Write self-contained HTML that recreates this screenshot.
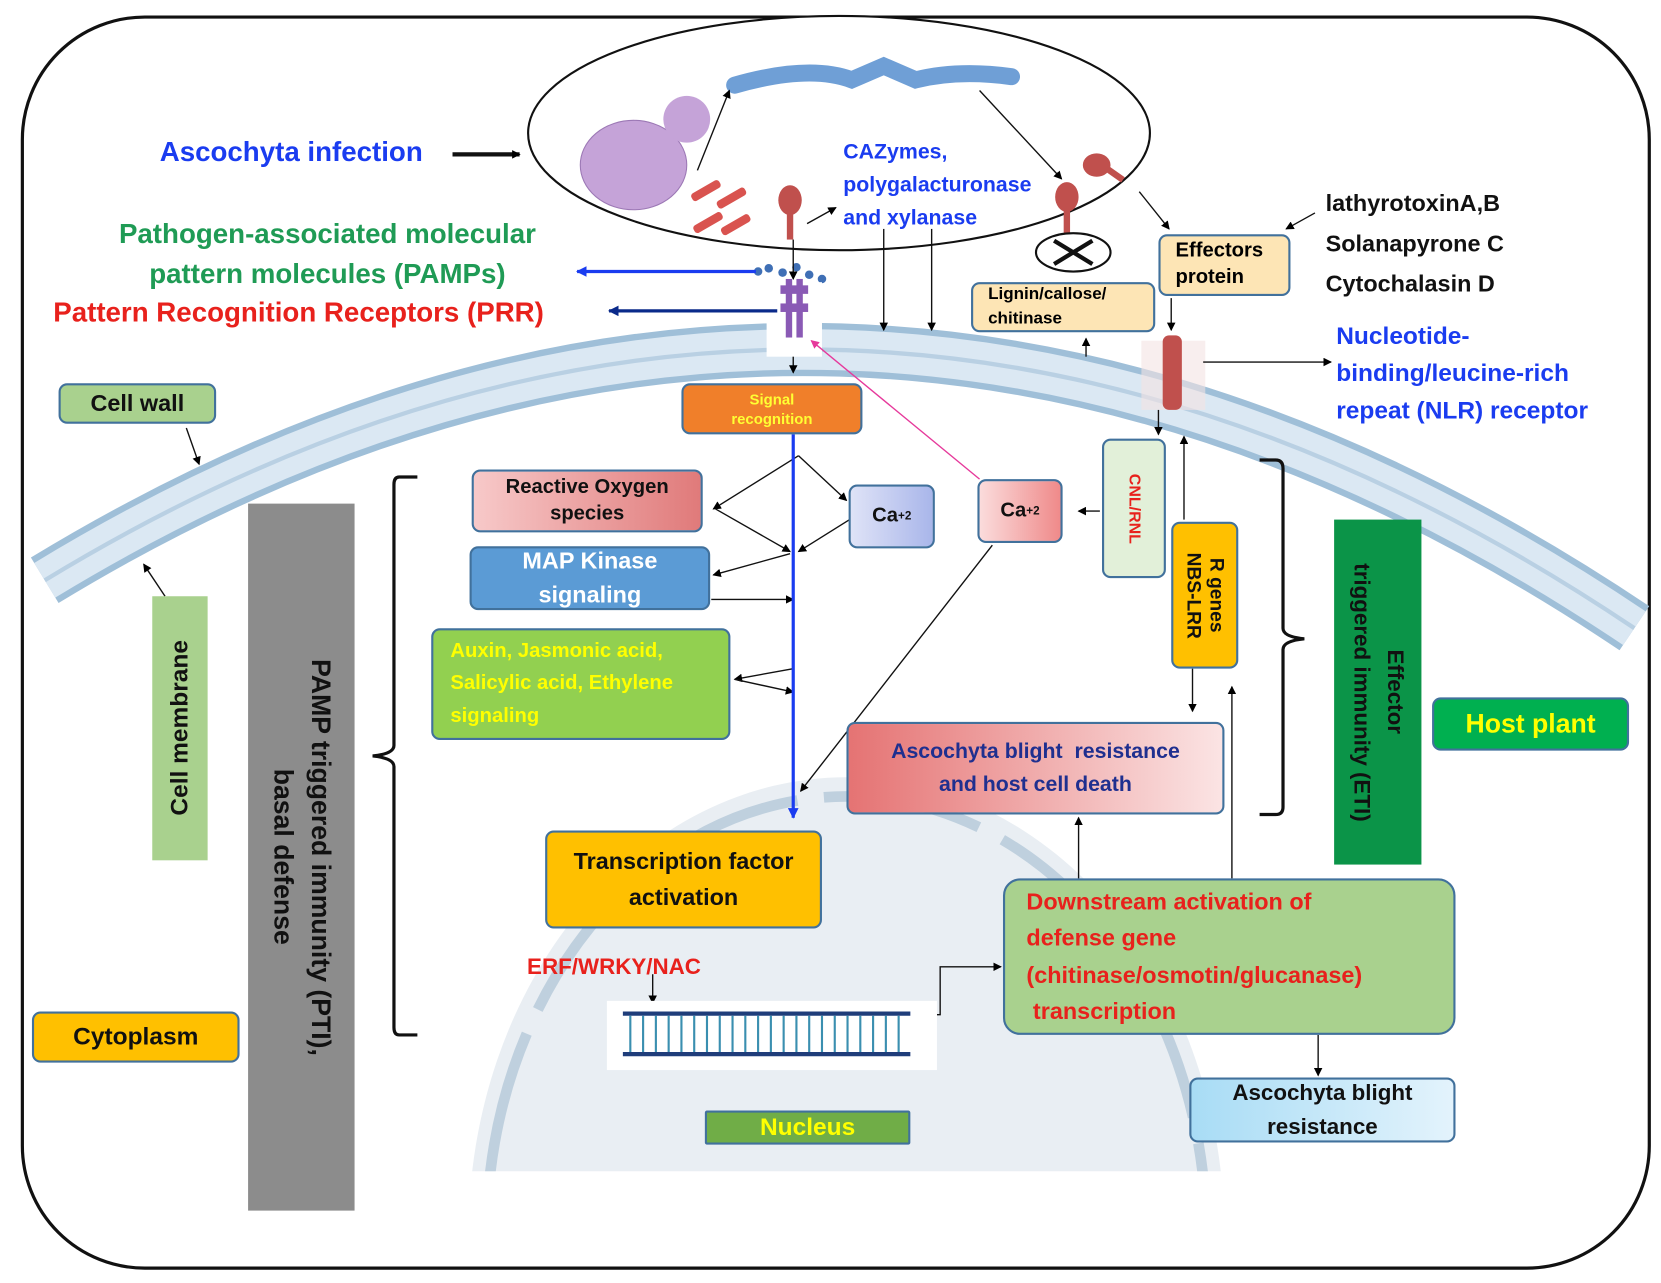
<!DOCTYPE html>
<html style="overflow:hidden"><head><meta charset="utf-8"><style>
html,body{margin:0;padding:0;background:#fff;width:1661px;height:1283px;overflow:hidden;position:relative}
#w{position:absolute;left:0;top:0;width:1560px;height:1205px;overflow:hidden;transform:scale(1.06474);transform-origin:0 0;font-family:"Liberation Sans",sans-serif}
.b{position:absolute;box-sizing:border-box;border:2px solid #41719c;border-radius:8px;display:flex;align-items:center;justify-content:center;text-align:center;font-weight:bold;line-height:1.3}
.t{position:absolute;font-weight:bold;white-space:nowrap}
.v{writing-mode:vertical-rl}
.vl{writing-mode:vertical-rl;transform:rotate(180deg)}
</style></head><body><div id="w">
<svg width="1560" height="1205" style="position:absolute;left:0;top:0">
<defs>
<marker id="a" markerWidth="8" markerHeight="8" refX="7" refY="4" orient="auto" markerUnits="userSpaceOnUse"><path d="M0,0L8,4L0,8z" fill="#000"/></marker>
<marker id="ab" markerWidth="10" markerHeight="10" refX="9" refY="5" orient="auto" markerUnits="userSpaceOnUse"><path d="M0,0L10,5L0,10z" fill="#1a3cf0"/></marker>
<marker id="an" markerWidth="10" markerHeight="10" refX="9" refY="5" orient="auto" markerUnits="userSpaceOnUse"><path d="M0,0L10,5L0,10z" fill="#0a2a8a"/></marker>
<marker id="ap" markerWidth="8" markerHeight="8" refX="7" refY="4" orient="auto" markerUnits="userSpaceOnUse"><path d="M0,0L8,4L0,8z" fill="#e6399b"/></marker>
<clipPath id="nc"><rect x="0" y="0" width="1560" height="1100"/></clipPath>
</defs>
<rect x="21" y="16" width="1528" height="1175" rx="115" fill="#fff" stroke="#111" stroke-width="3"/>
<g clip-path="url(#nc)">
<ellipse cx="795" cy="1160" rx="355" ry="430" fill="#e9eef3"/>
<ellipse cx="795" cy="1160" rx="338" ry="412" fill="none" stroke="#bfd0de" stroke-width="10" stroke-dasharray="150 25"/>
</g>
<path d="M42,545 Q790,90 1535,590" fill="none" stroke="#9fbfd8" stroke-width="50"/>
<path d="M42,545 Q790,90 1535,590" fill="none" stroke="#dbe8f3" stroke-width="38"/>
<path d="M42,545 Q790,90 1535,590" fill="none" stroke="#b9d0e3" stroke-width="4"/>
<ellipse cx="788" cy="125" rx="292" ry="110" fill="#fff" stroke="#111" stroke-width="2"/>
<ellipse cx="595" cy="155" rx="50" ry="42" fill="#c5a3d8" stroke="#9c78b5"/>
<circle cx="645" cy="112" r="22" fill="#c5a3d8"/>
<path d="M690,80 Q760,60 800,75 L830,62 L860,75 Q900,65 950,72" stroke="#6f9fd6" stroke-width="16" fill="none" stroke-linecap="round"/>
<g fill="#d9534f"><rect x="648" y="175" width="30" height="8" rx="3" transform="rotate(-30 663 179)"/><rect x="672" y="182" width="30" height="8" rx="3" transform="rotate(-30 687 186)"/><rect x="650" y="205" width="30" height="8" rx="3" transform="rotate(-30 665 209)"/><rect x="676" y="207" width="30" height="8" rx="3" transform="rotate(-30 691 211)"/></g>
<g fill="#c0504d"><ellipse cx="742" cy="188" rx="11" ry="14"/><rect x="739" y="195" width="6" height="30"/><ellipse cx="1002" cy="185" rx="11" ry="14"/><rect x="999" y="192" width="6" height="30"/><ellipse cx="1030" cy="155" rx="13" ry="11"/><rect x="1040" y="155" width="20" height="6" transform="rotate(35 1040 155)"/></g>
<ellipse cx="1008" cy="237" rx="35" ry="18" fill="#fff" stroke="#111" stroke-width="2"/>
<path d="M990,226L1026,248M1026,226L990,248" stroke="#111" stroke-width="4"/>
<g fill="#3f6fb5"><circle cx="712" cy="255" r="4"/><circle cx="722" cy="252" r="4"/><circle cx="735" cy="256" r="4"/><circle cx="748" cy="251" r="4"/><circle cx="760" cy="258" r="4"/><circle cx="772" cy="262" r="4"/></g>
<rect x="720" y="265" width="52" height="70" fill="#fff"/>
<g fill="#8a5ab5"><rect x="738" y="262" width="6" height="55"/><rect x="748" y="262" width="6" height="55"/><rect x="733" y="268" width="26" height="8"/><rect x="733" y="285" width="26" height="8"/></g>
<rect x="1072" y="320" width="60" height="65" fill="#f3e3e3" opacity=".6"/>
<rect x="1092" y="315" width="18" height="70" rx="6" fill="#c0504d"/>
<g stroke="#111" stroke-width="1.3" fill="none">
<path d="M425,145H488" stroke-width="4" marker-end="url(#a)"/>
<path d="M655,160L685,85" marker-end="url(#a)"/>
<path d="M758,210L785,195" marker-end="url(#a)"/>
<path d="M745,225V262" marker-end="url(#a)"/>
<path d="M920,85L997,168" marker-end="url(#a)"/>
<path d="M1070,180L1098,215" marker-end="url(#a)"/>
<path d="M1235,200L1208,215" marker-end="url(#a)"/>
<path d="M830,215V310" marker-end="url(#a)"/>
<path d="M875,215V310" marker-end="url(#a)"/>
<path d="M1020,335V318" marker-end="url(#a)"/>
<path d="M1100,280V310" marker-end="url(#a)"/>
<path d="M1130,340H1250" marker-end="url(#a)"/>
<path d="M745,335V350" marker-end="url(#a)"/>
<path d="M1088,385V408" marker-end="url(#a)"/>
<path d="M1112,488V410" marker-end="url(#a)"/>
<path d="M1033,480H1013" marker-end="url(#a)"/>
<path d="M1120,628V668" marker-end="url(#a)"/>
<path d="M1157,825V645" marker-end="url(#a)"/>
<path d="M1013,825V768" marker-end="url(#a)"/>
<path d="M1238,972V1010" marker-end="url(#a)"/>
<path d="M175,402L187,436" marker-end="url(#a)"/>
<path d="M155,560L135,530" marker-end="url(#a)"/>
<path d="M750,428L670,478" marker-end="url(#a)"/>
<path d="M750,428L795,470" marker-end="url(#a)"/>
<path d="M672,478L742,518" marker-end="url(#a)"/>
<path d="M798,488L750,518" marker-end="url(#a)"/>
<path d="M742,520L670,540" marker-end="url(#a)"/>
<path d="M668,563H745" marker-end="url(#a)"/>
<path d="M745,628L690,638" marker-end="url(#a)"/>
<path d="M690,638L745,650" marker-end="url(#a)"/>
<path d="M932,512L752,743" marker-end="url(#a)"/>
<path d="M613,915V942" marker-end="url(#a)"/>
<path d="M880,953H883V908H940" marker-end="url(#a)"/>
<path d="M392,448H375Q370,448 370,455V700Q370,708 350,710Q370,712 370,720V965Q370,972 375,972H392" stroke-width="3"/>
<path d="M1183,432H1198Q1205,432 1205,440V590Q1205,598 1225,600Q1205,602 1205,610V758Q1205,765 1198,765H1183" stroke-width="3"/>
</g>
<path d="M920,450L762,320" stroke="#e6399b" stroke-width="1.3" fill="none" marker-end="url(#ap)"/>
<path d="M710,255H542" stroke="#1a3cf0" stroke-width="3" marker-end="url(#ab)"/>
<path d="M730,292H572" stroke="#0a2a8a" stroke-width="3" marker-end="url(#an)"/>
<path d="M745,408V768" stroke="#1a3cf0" stroke-width="3" marker-end="url(#ab)"/>
<rect x="570" y="940" width="310" height="65" fill="#fff"/>
<path d="M585,952H855M585,990H855" stroke="#1f3d7a" stroke-width="4"/>
<path d="M592,954V988M604,954V988M616,954V988M628,954V988M640,954V988M652,954V988M664,954V988M676,954V988M688,954V988M700,954V988M712,954V988M724,954V988M736,954V988M748,954V988M760,954V988M772,954V988M784,954V988M796,954V988M808,954V988M820,954V988M832,954V988M844,954V988" stroke="#3a8fb0" stroke-width="2"/>
</svg>
<div class="t" style="left:150px;top:127px;font-size:26px;color:#1a3cf0">Ascochyta infection</div>
<div class="t" style="left:90px;top:200px;width:435px;text-align:center;font-size:26px;line-height:38px;color:#1f9b55">Pathogen-associated molecular<br>pattern molecules (PAMPs)</div>
<div class="t" style="left:50px;top:278px;font-size:26px;color:#e8211c">Pattern Recognition Receptors (PRR)</div>
<div class="t" style="left:792px;top:128px;font-size:20px;line-height:31px;color:#1a3cf0">CAZymes,<br>polygalacturonase<br>and xylanase</div>
<div class="t" style="left:1245px;top:172px;font-size:22px;line-height:38px;color:#111">lathyrotoxinA,B<br>Solanapyrone C<br>Cytochalasin D</div>
<div class="t" style="left:1255px;top:298px;font-size:23px;line-height:35px;color:#1a3cf0">Nucleotide-<br>binding/leucine-rich<br>repeat (NLR) receptor</div>
<div class="b" style="left:1088px;top:220px;width:124px;height:58px;background:#fde5b5;font-size:19px;justify-content:flex-start;padding-left:14px;text-align:left">Effectors<br>protein</div>
<div class="b" style="left:912px;top:265px;width:173px;height:47px;background:#fde5b5;font-size:16px;text-align:left;justify-content:flex-start;padding-left:14px;line-height:1.4">Lignin/callose/<br>chitinase</div>
<div class="b" style="left:640px;top:360px;width:170px;height:48px;background:#f07f2a;color:#ffff33;font-size:14px">Signal<br>recognition</div>
<div class="b" style="left:55px;top:360px;width:148px;height:38px;background:#a9d18e;font-size:22px;color:#111">Cell wall</div>
<div class="b vl" style="left:143px;top:560px;width:52px;height:248px;background:#a9d18e;border:none;border-radius:0;font-size:23px;color:#111">Cell membrane</div>
<div class="b v" style="left:233px;top:473px;width:100px;height:664px;background:#8c8c8c;border:none;border-radius:0;font-size:25px;color:#111;line-height:1.4">PAMP triggered immunity (PTI),<br>basal defense</div>
<div class="b" style="left:30px;top:950px;width:195px;height:48px;background:#ffc000;font-size:23px;color:#111">Cytoplasm</div>
<div class="b" style="left:443px;top:441px;width:217px;height:59px;background:linear-gradient(90deg,#f7c9c9,#e07a7a);font-size:19px;color:#111">Reactive Oxygen<br>species</div>
<div class="b" style="left:797px;top:455px;width:81px;height:60px;background:linear-gradient(90deg,#dfe3f7,#a9b6ea);font-size:19px;color:#111">Ca<sup style="font-size:11px">+2</sup></div>
<div class="b" style="left:441px;top:513px;width:226px;height:60px;background:#5b9bd5;color:#fff;font-size:22px;line-height:1.45">MAP Kinase<br>signaling</div>
<div class="b" style="left:405px;top:590px;width:281px;height:105px;background:#92d050;color:#ffff00;font-size:19px;text-align:left;justify-content:flex-start;padding-left:16px;line-height:1.6">Auxin, Jasmonic acid,<br>Salicylic acid, Ethylene<br>signaling</div>
<div class="b" style="left:918px;top:450px;width:80px;height:60px;background:linear-gradient(90deg,#fbdcdc,#ef8a8a);font-size:19px;color:#111">Ca<sup style="font-size:11px">+2</sup></div>
<div class="b v" style="left:1035px;top:412px;width:60px;height:131px;background:#e2f0d9;color:#e8211c;font-size:15px">CNL/RNL</div>
<div class="b v" style="left:1100px;top:490px;width:63px;height:138px;background:#ffc000;color:#111;font-size:18px;line-height:1.2">R genes<br>NBS-LRR</div>
<div class="b v" style="left:1253px;top:488px;width:82px;height:324px;background:#0b9448;border:none;border-radius:0;color:#111;font-size:21px;line-height:1.5">Effector<br>triggered immunity (ETI)</div>
<div class="b" style="left:1345px;top:655px;width:185px;height:50px;background:#00b050;color:#ffff00;font-size:25px">Host plant</div>
<div class="b" style="left:795px;top:678px;width:355px;height:87px;background:linear-gradient(90deg,#e57373,#fbe4e4);color:#1f2f8f;font-size:20px;line-height:1.55">Ascochyta blight&nbsp; resistance<br>and host cell death</div>
<div class="b" style="left:512px;top:780px;width:260px;height:92px;background:#ffc000;color:#111;font-size:22px;line-height:1.55">Transcription factor<br>activation</div>
<div class="t" style="left:495px;top:897px;font-size:21px;color:#e8211c">ERF/WRKY/NAC</div>
<div class="b" style="left:942px;top:825px;width:425px;height:147px;background:#a9d18e;color:#e8211c;font-size:22px;text-align:left;justify-content:flex-start;padding-left:20px;line-height:1.55;border-radius:16px">Downstream activation of<br>defense gene<br>(chitinase/osmotin/glucanase)<br>&nbsp;transcription</div>
<div class="b" style="left:1117px;top:1012px;width:250px;height:61px;background:linear-gradient(90deg,#a8dcf5,#e3f3fc);color:#111;font-size:21px;line-height:1.5">Ascochyta blight<br>resistance</div>
<div class="b" style="left:662px;top:1043px;width:193px;height:32px;background:#70ad47;color:#ffff00;font-size:23px;border-radius:2px">Nucleus</div>
</div></body></html>
